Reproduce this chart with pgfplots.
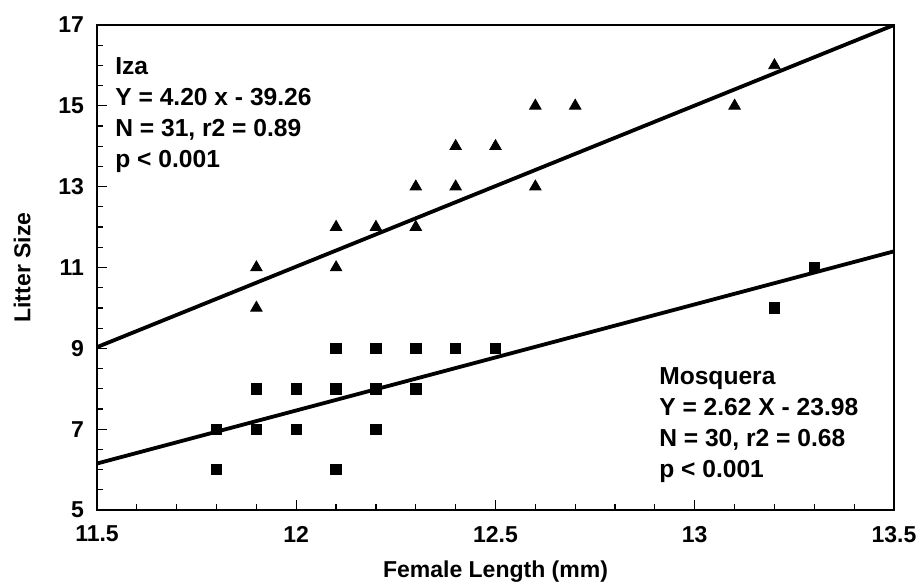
\documentclass[border=0pt]{standalone}
\usepackage{fontspec}
\setmainfont{Liberation Sans}
\usepackage{pgfplots}
\pgfplotsset{compat=1.18}
\begin{document}
\begin{tikzpicture}
\useasboundingbox (-48.5pt,-37.5pt) rectangle (413pt,255pt);
\begin{axis}[
  scale only axis,
  width=398.5pt, height=242.5pt,
  xmin=11.5, xmax=13.5, ymin=5, ymax=17,
  xtick={11.5,12,12.5,13,13.5},
  xticklabels={11.5,12,12.5,13,13.5},
  ytick={5,7,9,11,13,15,17},
  minor x tick num=4,
  minor y tick num=3,
  xtick pos=bottom, ytick pos=left,
  tick align=inside,
  major tick length=5pt, minor tick length=3pt,
  axis line style={line width=0.8pt},
  every tick/.style={black, line width=0.6pt},
  /pgf/number format/assume math mode=true,
  tick label style={font=\bfseries\fontsize{11.5}{13}\selectfont},
  xticklabel style={yshift=-4.5pt},
  yticklabel style={xshift=-3pt},
  xlabel={Female Length (mm)},
  ylabel={Litter Size},
  label style={font=\bfseries\fontsize{11.5}{13}\selectfont},
  xlabel style={at={(axis description cs:0.5,-0.128)}, anchor=center},
  ylabel style={at={(axis description cs:-0.094,0.5)}, anchor=center, rotate=0},
  clip=true,
]
% Iza
\addplot[only marks, mark=triangle*, mark size=3.3pt, black] coordinates {
 (11.9,11) (11.9,10) (12.1,12) (12.1,11) (12.2,12) (12.3,13) (12.3,12)
 (12.4,14) (12.4,13) (12.5,14) (12.6,15) (12.6,13) (12.7,15) (13.1,15) (13.2,16)
};
% Mosquera
\addplot[only marks, mark=square*, mark size=2.6pt, black] coordinates {
 (11.8,7) (11.8,6) (11.9,8) (11.9,7) (12.0,8) (12.0,7) (12.1,9) (12.1,8) (12.1,6)
 (12.2,9) (12.2,8) (12.2,7) (12.3,9) (12.3,8) (12.4,9) (12.5,9) (13.2,10) (13.3,11)
};
% regression lines as drawn
\addplot[black, line width=1.9pt] coordinates {(11.5,9.03) (13.5,17.0)};
\addplot[black, line width=1.9pt] coordinates {(11.5,6.15) (13.5,11.4)};
\node[anchor=north west, align=left, inner sep=0pt,
      font=\bfseries\fontsize{12.3}{15.5}\selectfont]
  at (axis cs:11.545,16.21) {Iza\\Y = 4.20 x - 39.26\\N = 31, r2 = 0.89\\p < 0.001};
\node[anchor=north west, align=left, inner sep=0pt,
      font=\bfseries\fontsize{12.3}{15.5}\selectfont]
  at (axis cs:12.91,8.54) {Mosquera\\Y = 2.62 X - 23.98\\N = 30, r2 = 0.68\\p < 0.001};
\end{axis}
\end{tikzpicture}
\end{document}
